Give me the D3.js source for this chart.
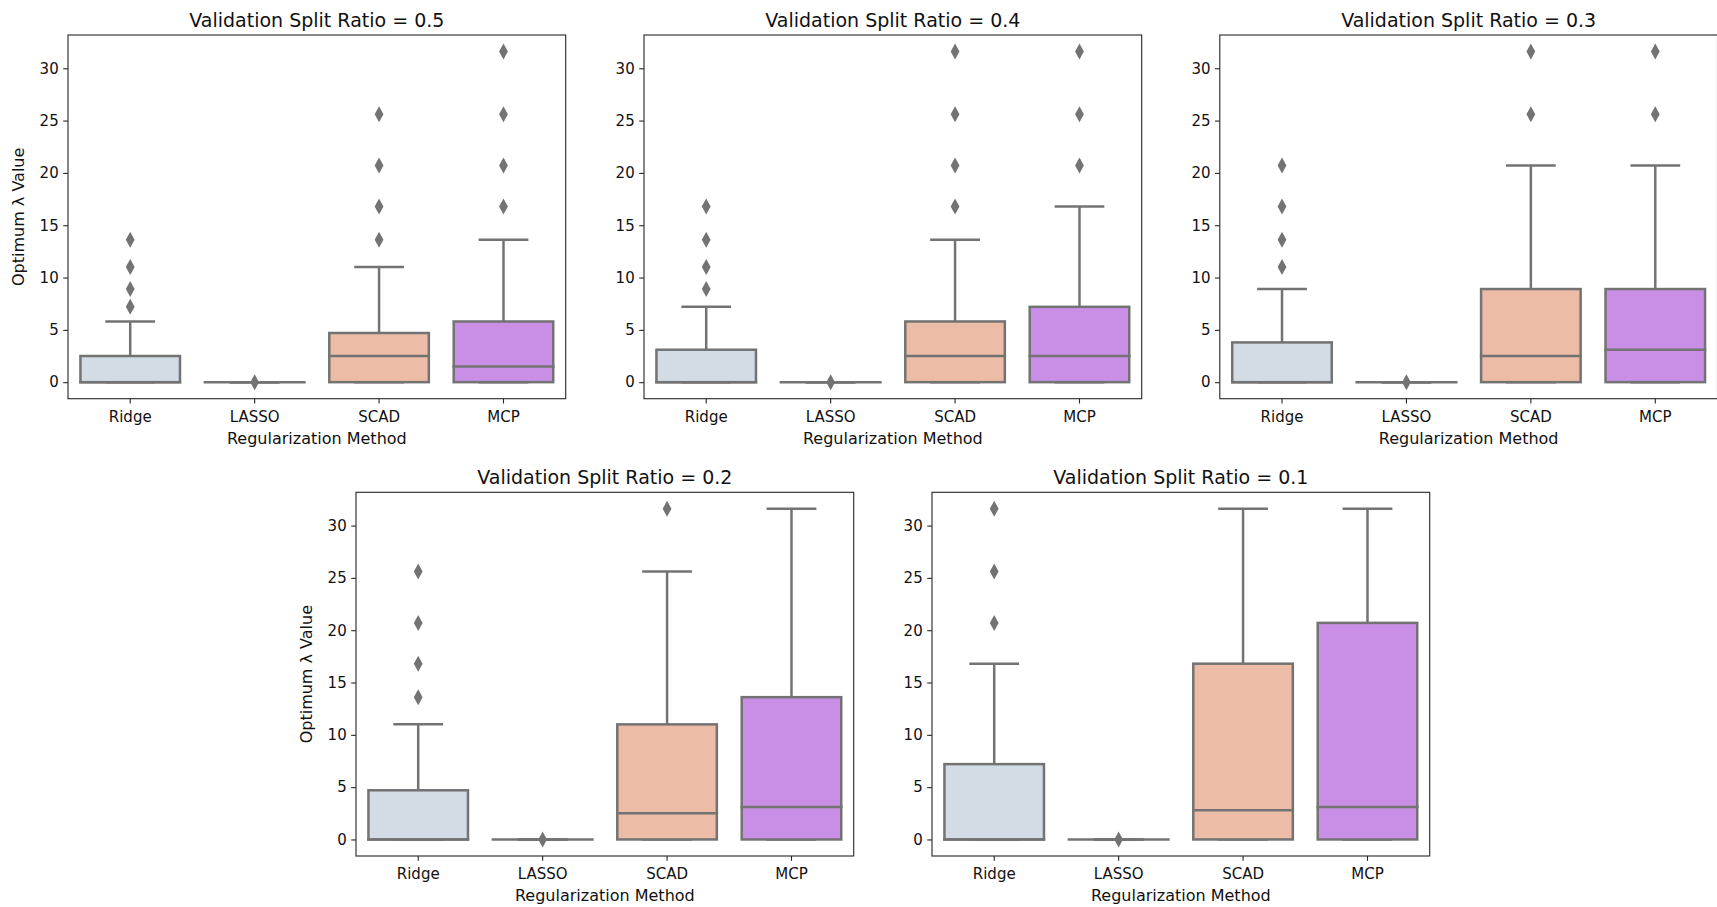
<!DOCTYPE html>
<html>
<head>
<meta charset="utf-8">
<script src="https://cdn.jsdelivr.net/npm/d3@7"></script>
<style>
  body { margin: 0; background: #fff; }
  svg { display: block; font-family: 'DejaVu Sans', sans-serif; }
</style>
</head>
<body>
<div id="chart"></div>
<script>
// data
const methods = ['Ridge', 'LASSO', 'SCAD', 'MCP'];
const splitRatios = ['0.5', '0.4', '0.3', '0.2', '0.1'];
const yTicks = [0, 5, 10, 15, 20, 25, 30];
const boxColors = ['#d3dce4', '#eed0c2', '#ecbca7', '#c98fe6'];

// per panel, per method
const lowerWhiskers = [
  [0, 0, 0, 0], [0, 0, 0, 0], [0, 0, 0, 0], [0, 0, 0, 0], [0, 0, 0, 0]
];
const q1Values = [
  [0, 0, 0, 0], [0, 0, 0, 0], [0, 0, 0, 0], [0, 0, 0, 0], [0, 0, 0, 0]
];
const medianValues = [
  [0, 0, 2.5, 1.5],
  [0, 0, 2.5, 2.5],
  [0, 0, 2.5, 3.1],
  [0, 0, 2.5, 3.1],
  [0, 0, 2.8, 3.1]
];
const q3Values = [
  [2.5, 0, 4.7, 5.8],
  [3.1, 0, 5.8, 7.2],
  [3.8, 0, 8.9, 8.9],
  [4.7, 0, 11.0, 13.6],
  [7.2, 0, 16.8, 20.7]
];
const upperWhiskers = [
  [5.8, 0, 11.0, 13.6],
  [7.2, 0, 13.6, 16.8],
  [8.9, 0, 20.7, 20.7],
  [11.0, 0, 25.6, 31.6],
  [16.8, 0, 31.6, 31.6]
];
const outlierValues = [
  [[7.2, 8.9, 11.0, 13.6], [0], [13.6, 16.8, 20.7, 25.6], [16.8, 20.7, 25.6, 31.6]],
  [[8.9, 11.0, 13.6, 16.8], [0], [16.8, 20.7, 25.6, 31.6], [20.7, 25.6, 31.6]],
  [[11.0, 13.6, 16.8, 20.7], [0], [25.6, 31.6], [25.6, 31.6]],
  [[13.6, 16.8, 20.7, 25.6], [0], [31.6], []],
  [[20.7, 25.6, 31.6], [0], [], []]
];

// layout
const W = 1717, H = 907;
const panelW = 497.7, panelH = 363.7;
const panelPos = [
  { x: 68, y: 35 }, { x: 644, y: 35 }, { x: 1219.8, y: 35 },
  { x: 356, y: 492.3 }, { x: 932, y: 492.3 }
];
const lineGray = '#737373';
const textColor = '#111';

const svg = d3.select('#chart').append('svg')
  .attr('width', W)
  .attr('height', H);

splitRatios.forEach((ratio, p) => {
  const pos = panelPos[p];
  const g = svg.append('g').attr('transform', `translate(${pos.x},${pos.y})`);

  // y range from data with 5% margins like matplotlib
  const allVals = [].concat(lowerWhiskers[p], upperWhiskers[p], ...outlierValues[p]);
  const lo = d3.min(allVals), hi = d3.max(allVals);
  const pad = (hi - lo) * 0.05;
  const y = d3.scaleLinear().domain([lo - pad, hi + pad]).range([panelH, 0]);
  const x = d3.scaleBand().domain(methods).range([0, panelW]).padding(0);
  const boxW = x.bandwidth() * 0.8;
  const capW = boxW / 2;

  methods.forEach((m, i) => {
    const cx = x(m) + x.bandwidth() / 2;
    const bg = g.append('g');

    // whiskers
    bg.append('line')
      .attr('x1', cx).attr('x2', cx)
      .attr('y1', y(q3Values[p][i])).attr('y2', y(upperWhiskers[p][i]))
      .attr('stroke', lineGray).attr('stroke-width', 2.5);
    bg.append('line')
      .attr('x1', cx).attr('x2', cx)
      .attr('y1', y(q1Values[p][i])).attr('y2', y(lowerWhiskers[p][i]))
      .attr('stroke', lineGray).attr('stroke-width', 2.5);
    // caps
    [upperWhiskers[p][i], lowerWhiskers[p][i]].forEach(v => {
      bg.append('line')
        .attr('x1', cx - capW / 2).attr('x2', cx + capW / 2)
        .attr('y1', y(v)).attr('y2', y(v))
        .attr('stroke', lineGray).attr('stroke-width', 2.5);
    });

    // box
    bg.append('rect')
      .attr('x', cx - boxW / 2)
      .attr('y', y(q3Values[p][i]))
      .attr('width', boxW)
      .attr('height', Math.max(0, y(q1Values[p][i]) - y(q3Values[p][i])))
      .attr('fill', boxColors[i])
      .attr('stroke', lineGray)
      .attr('stroke-width', 2.5);

    // median (also shows collapsed boxes)
    bg.append('line')
      .attr('x1', cx - boxW / 2 - 1.25).attr('x2', cx + boxW / 2 + 1.25)
      .attr('y1', y(medianValues[p][i])).attr('y2', y(medianValues[p][i]))
      .attr('stroke', lineGray).attr('stroke-width', 2.5);

    // fliers (thin diamonds)
    bg.selectAll('path.flier')
      .data(outlierValues[p][i])
      .enter().append('path')
      .attr('class', 'flier')
      .attr('d', d => {
        const py = y(d);
        return `M${cx},${py - 8} L${cx + 4.4},${py} L${cx},${py + 8} L${cx - 4.4},${py} Z`;
      })
      .attr('fill', lineGray);
  });

  // frame
  g.append('rect')
    .attr('width', panelW).attr('height', panelH)
    .attr('fill', 'none')
    .attr('stroke', '#262626')
    .attr('stroke-width', 1.1);

  // y axis
  const yAxis = g.append('g')
    .call(d3.axisLeft(y).tickValues(yTicks).tickSize(4.8).tickPadding(4.5).tickFormat(d3.format('d')))
    .attr('font-family', null).attr('font-size', null);
  yAxis.select('.domain').remove();
  yAxis.selectAll('line').attr('stroke', '#262626').attr('stroke-width', 1.1);
  yAxis.selectAll('text')
    .attr('font-size', '15px')
    .attr('fill', textColor);

  // x axis
  const xAxis = g.append('g')
    .attr('transform', `translate(0,${panelH})`)
    .call(d3.axisBottom(x).tickSize(4.8).tickPadding(7.5))
    .attr('font-family', null).attr('font-size', null);
  xAxis.select('.domain').remove();
  xAxis.selectAll('line').attr('stroke', '#262626').attr('stroke-width', 1.1);
  xAxis.selectAll('text')
    .attr('font-size', '15px')
    .attr('fill', textColor);

  // labels
  g.append('text')
    .attr('x', panelW / 2)
    .attr('y', panelH + 45)
    .attr('text-anchor', 'middle')
    .attr('font-size', '16px')
    .attr('fill', textColor)
    .text('Regularization Method');

  if (p === 0 || p === 3) {
    g.append('text')
      .attr('transform', `translate(-44,${panelH / 2}) rotate(-90)`)
      .attr('text-anchor', 'middle')
      .attr('font-size', '16px')
      .attr('fill', textColor)
      .text('Optimum λ Value');
  }

  g.append('text')
    .attr('x', panelW / 2)
    .attr('y', -8.5)
    .attr('text-anchor', 'middle')
    .attr('font-size', '19px')
    .attr('fill', textColor)
    .text(`Validation Split Ratio = ${ratio}`);
});
</script>
</body>
</html>
